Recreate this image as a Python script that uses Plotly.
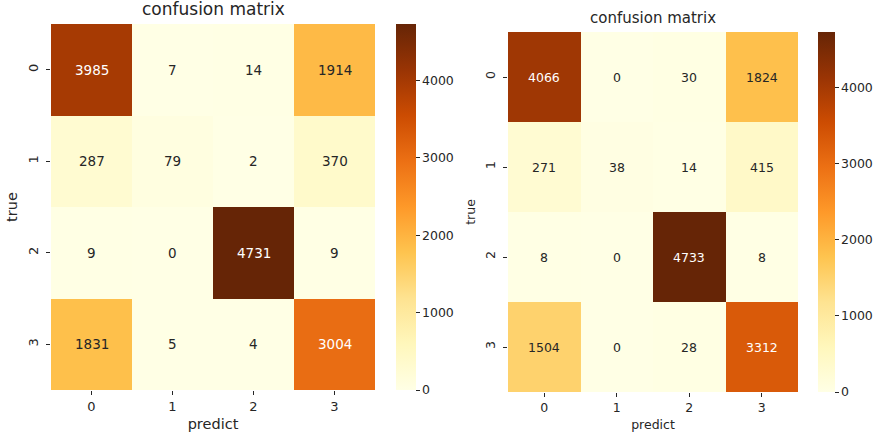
import plotly.graph_objects as go

labels = ["0", "1", "2", "3"]
cm_left = [
    [3985, 7, 14, 1914],
    [287, 79, 2, 370],
    [9, 0, 4731, 9],
    [1831, 5, 4, 3004],
]
cm_right = [
    [4066, 0, 30, 1824],
    [271, 38, 14, 415],
    [8, 0, 4733, 8],
    [1504, 0, 28, 3312],
]
cbar_ticks = [0, 1000, 2000, 3000, 4000]

W, H = 882, 438
DARK = "#262626"
FONT = "DejaVu Sans"

def px(x):
    return x / W

def py(y):
    return 1 - y / H

panels = [
    # matrix, left, right, top, bottom, cbar_left, cbar_thick, cell text, title, label, tick
    (cm_left, 51, 375, 24, 390, 396, 20, 13.5, 17, 14.5, 13),
    (cm_right, 508, 798, 32, 392, 818, 17, 12.5, 15, 12.5, 12.5),
]

fig = go.Figure()
annotations = []
for i, (cm, l, r, t, b, cl, thick, tsize, titsize, lsize, ksize) in enumerate(panels):
    n = i + 1
    xa = "x" if n == 1 else f"x{n}"
    ya = "y" if n == 1 else f"y{n}"
    zmax = max(max(row) for row in cm)
    fig.add_trace(go.Heatmap(
        z=cm, x=labels, y=labels,
        xaxis=xa, yaxis=ya,
        colorscale="YlOrBr", zmin=0, zmax=zmax,
        colorbar=dict(
            x=px(cl), xanchor="left", xpad=0, ypad=0,
            y=py(t), yanchor="top", lenmode="pixels", len=b - t,
            thickness=thick, outlinewidth=0,
            tickvals=cbar_ticks, ticks="outside", ticklen=4,
            tickcolor=DARK, tickfont=dict(size=12.5, color=DARK, family=FONT),
        ),
        hoverinfo="skip",
    ))
    for ri, row in enumerate(cm):
        for ci, v in enumerate(row):
            annotations.append(dict(
                x=labels[ci], y=labels[ri], xref=xa, yref=ya,
                text=str(v), showarrow=False,
                font=dict(size=tsize, family=FONT,
                          color="white" if v / zmax > 0.5 else DARK),
            ))
    annotations.append(dict(
        x=px((l + r) / 2), y=py(t - 3), xref="paper", yref="paper",
        xanchor="center", yanchor="bottom", text="confusion matrix",
        showarrow=False, font=dict(size=titsize, color=DARK, family=FONT),
    ))
    axis_common = dict(
        showgrid=False, zeroline=False, showline=False, automargin=False,
        ticks="outside", ticklen=4, tickcolor=DARK,
        tickfont=dict(size=ksize, color=DARK, family=FONT),
    )
    fig.update_layout({
        ("xaxis" if n == 1 else f"xaxis{n}"): dict(
            domain=[px(l), px(r)], anchor=ya,
            title=dict(text="predict", standoff=6,
                       font=dict(size=lsize, color=DARK, family=FONT)),
            **axis_common,
        ),
        ("yaxis" if n == 1 else f"yaxis{n}"): dict(
            domain=[py(b), py(t)], anchor=xa, autorange="reversed",
            tickangle=-90, ticklabelstandoff=3,
            title=dict(text="true", standoff=4,
                       font=dict(size=lsize, color=DARK, family=FONT)),
            **axis_common,
        ),
    })

fig.update_layout(
    width=W, height=H,
    margin=dict(l=0, r=0, t=0, b=0),
    paper_bgcolor="white", plot_bgcolor="white",
    annotations=annotations,
    font=dict(family=FONT, color=DARK),
)
fig.write_html(
    "out.html",
    config={"displayModeBar": False},
    post_script="document.body.style.margin='0';document.body.style.overflow='hidden';",
)
